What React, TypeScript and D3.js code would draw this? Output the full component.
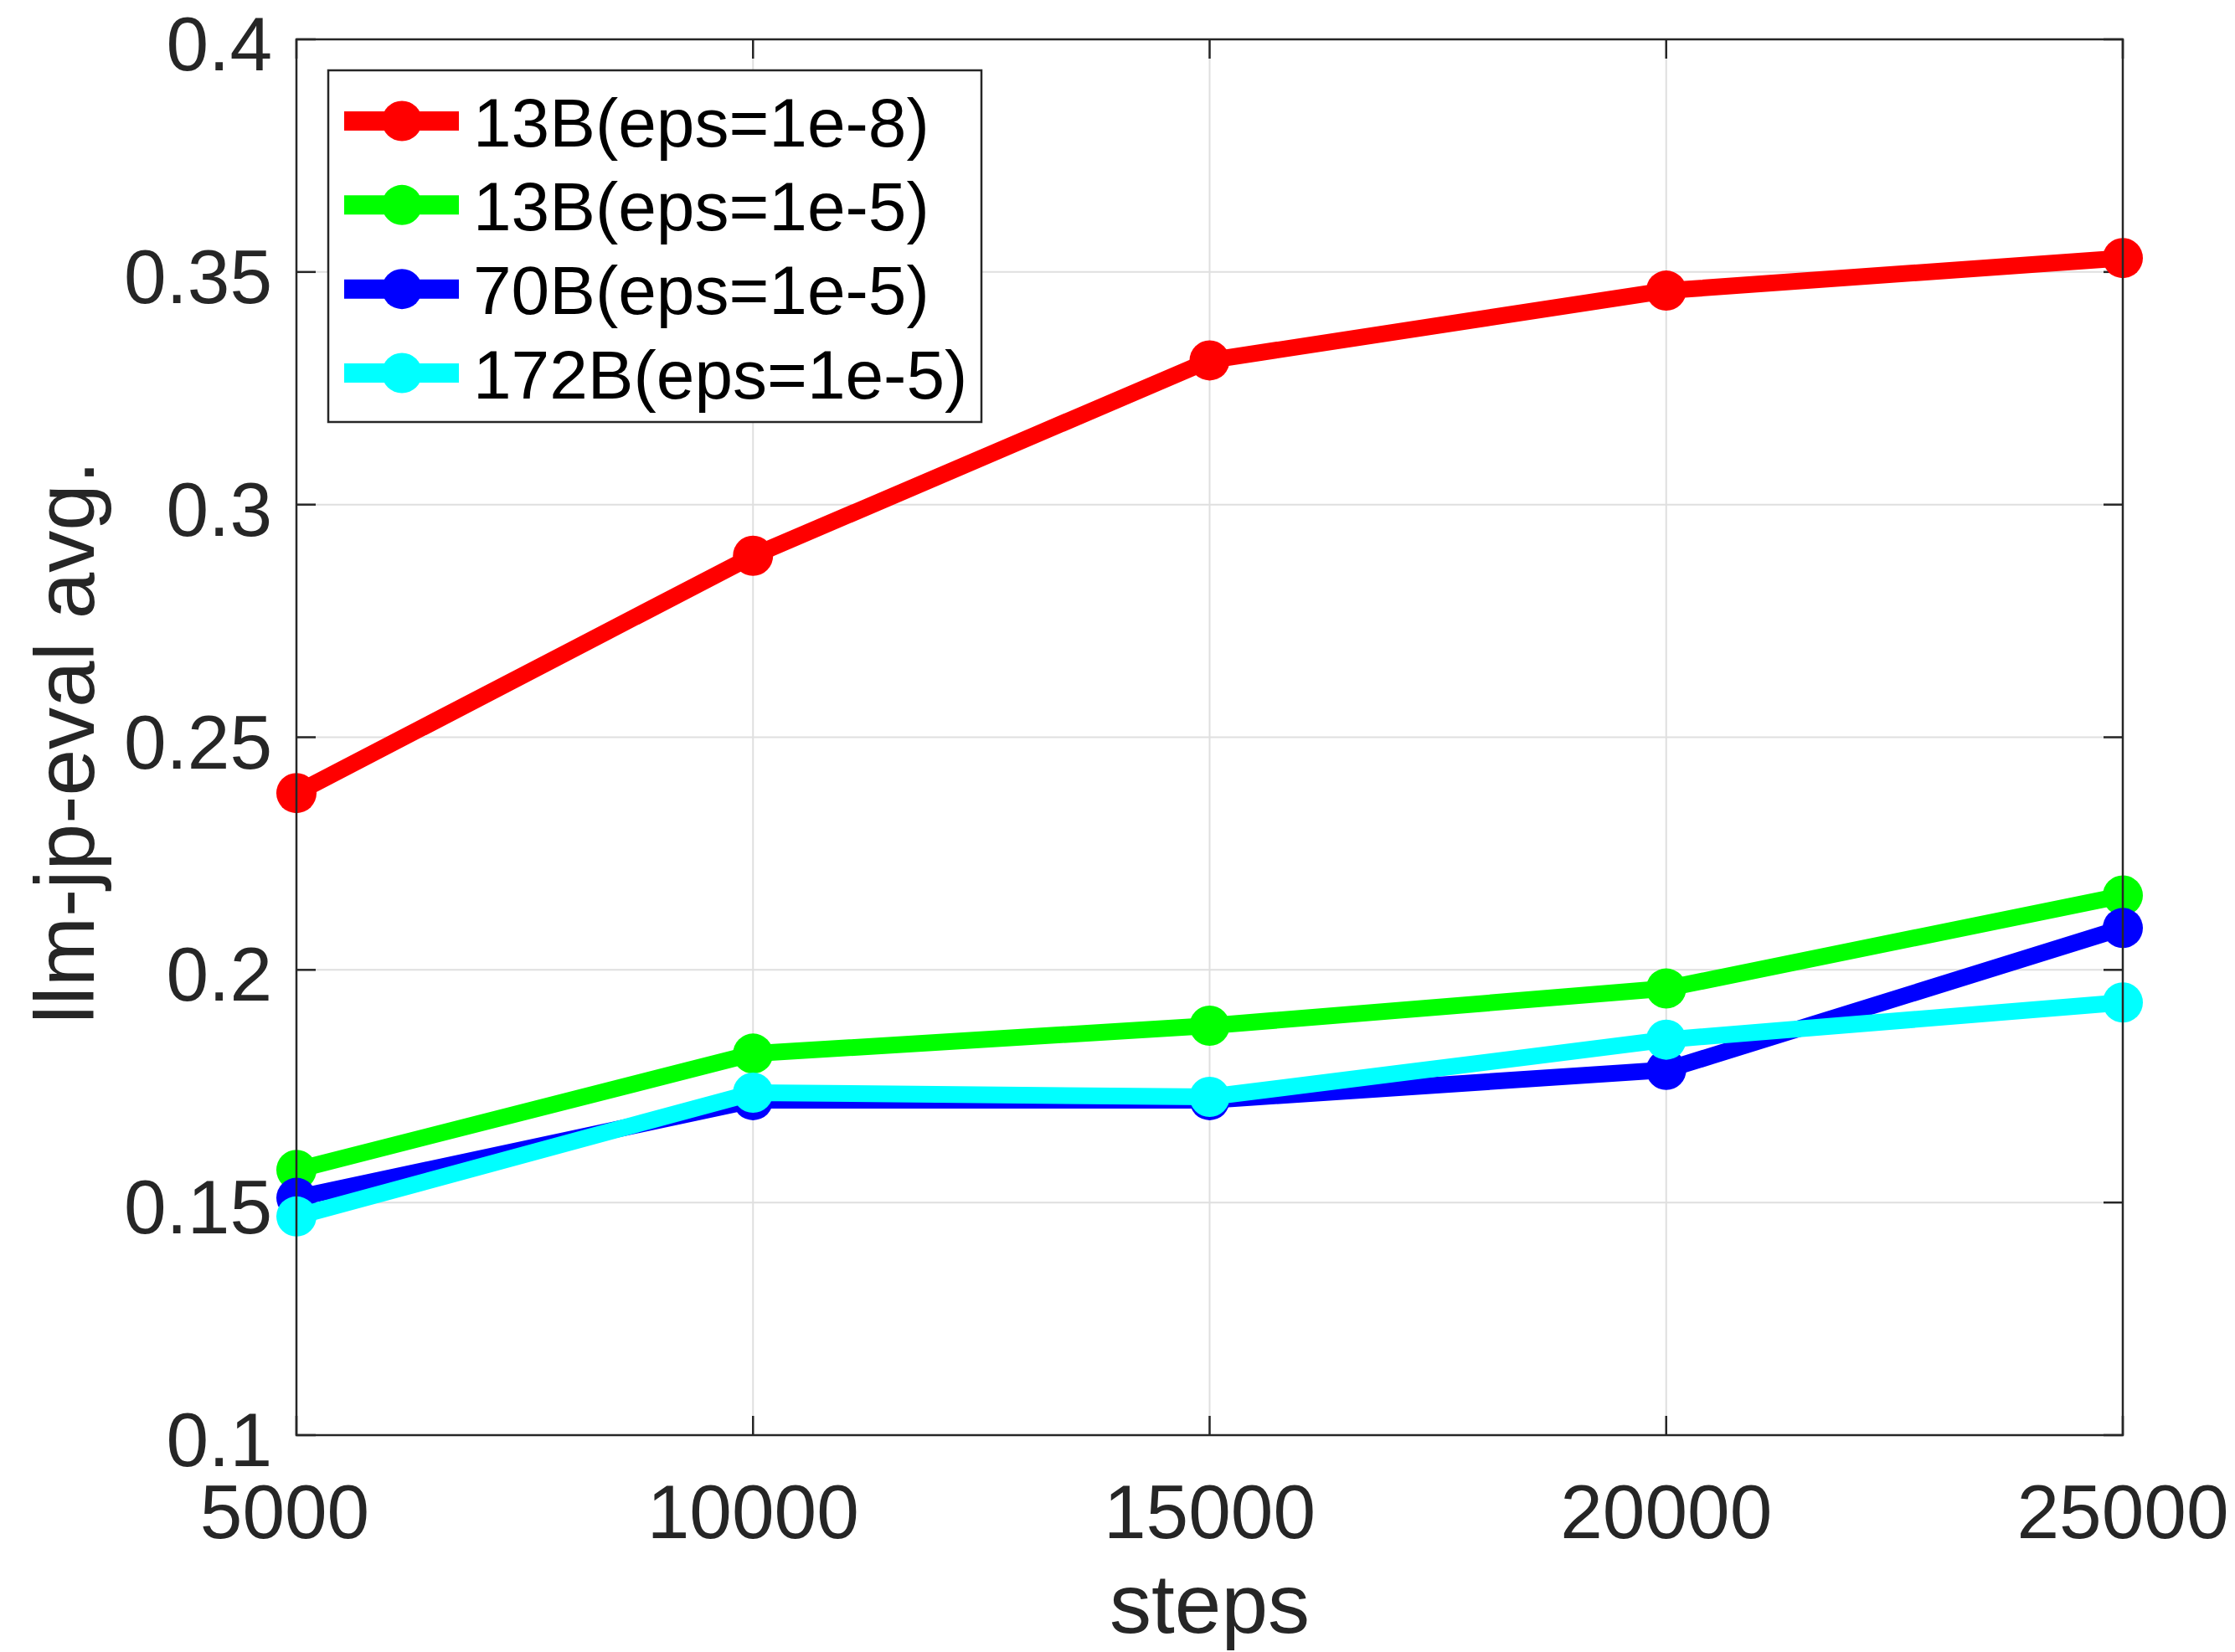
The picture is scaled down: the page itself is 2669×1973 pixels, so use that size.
import React from "react"
import * as d3 from "d3"

// values
const steps = [5000, 10000, 15000, 20000, 25000]
const seriesNames = ["13B(eps=1e-8)", "13B(eps=1e-5)", "70B(eps=1e-5)", "172B(eps=1e-5)"]
const seriesColors = ["#ff0000", "#00ff00", "#0000ff", "#00ffff"]
const red13b = [0.238, 0.289, 0.331, 0.346, 0.353]
const green13b = [0.157, 0.182, 0.188, 0.196, 0.216]
const blue70b = [0.151, 0.172, 0.172, 0.1785, 0.209]
const cyan172b = [0.147, 0.1736, 0.1727, 0.185, 0.193]
const xTicks = [5000, 10000, 15000, 20000, 25000]
const yTicks = [0.1, 0.15, 0.2, 0.25, 0.3, 0.35, 0.4]
const xLabel = "steps"
const yLabel = "llm-jp-eval avg."

const W = 2669, H = 1973
const margin = { left: 354, right: 134, top: 47, bottom: 259 }
const FONT = "Helvetica, 'Liberation Sans', Arial, sans-serif"
const INK = "#262626"

export default function App() {
  const x = d3.scaleLinear().domain([5000, 25000]).range([margin.left, W - margin.right])
  const y = d3.scaleLinear().domain([0.1, 0.4]).range([H - margin.bottom, margin.top])
  const [x0, x1] = x.range()
  const [y0, y1] = y.range()
  const tickLen = 23

  const allSeries = [red13b, green13b, blue70b, cyan172b]
  const line = d3.line<number>()
    .x((d, i) => x(steps[i]))
    .y(d => y(d))

  // legend layout
  const legendRow = d3.scaleLinear().domain([0, 3]).range([144.5, 445.5])

  return (
    <svg width={W} height={H} style={{ position: "absolute", left: 0, top: 0, background: "#fff" }}
      fontFamily={FONT}>
      {/* grid */}
      <g stroke="#dfdfdf" strokeWidth={2}>
        {xTicks.map(t => <line key={"gx" + t} x1={x(t)} x2={x(t)} y1={y1} y2={y0} />)}
        {yTicks.map(t => <line key={"gy" + t} x1={x0} x2={x1} y1={y(t)} y2={y(t)} />)}
      </g>

      {/* ticks, inward on all four sides */}
      <g stroke={INK} strokeWidth={2.5}>
        {xTicks.map(t => (
          <g key={"tx" + t}>
            <line x1={x(t)} x2={x(t)} y1={y0} y2={y0 - tickLen} />
            <line x1={x(t)} x2={x(t)} y1={y1} y2={y1 + tickLen} />
          </g>
        ))}
        {yTicks.map(t => (
          <g key={"ty" + t}>
            <line x1={x0} x2={x0 + tickLen} y1={y(t)} y2={y(t)} />
            <line x1={x1} x2={x1 - tickLen} y1={y(t)} y2={y(t)} />
          </g>
        ))}
      </g>

      {/* tick labels */}
      <g fill={INK} fontSize={91}>
        {xTicks.map((t, i) => (
          <text key={"lx" + t} x={x(t) - (i === 0 ? 14 : 0)} y={1837} textAnchor="middle">{d3.format("d")(t)}</text>
        ))}
        {yTicks.map(t => (
          <text key={"ly" + t} x={325} y={y(t) + 37} textAnchor="end">{d3.format("")(+t.toFixed(2))}</text>
        ))}
      </g>

      {/* axis labels */}
      <text x={(x0 + x1) / 2} y={1950} textAnchor="middle" fontSize={100} fill={INK}>{xLabel}</text>
      <text transform={`translate(112,${(y0 + y1) / 2 + 6}) rotate(-90)`} textAnchor="middle" fontSize={100} fill={INK}>{yLabel}</text>

      {/* data */}
      {allSeries.map((vals, si) => (
        <g key={"s" + si}>
          <path d={line(vals) || ""} fill="none" stroke={seriesColors[si]} strokeWidth={20} strokeLinejoin="round" />
          {vals.map((v, i) => (
            <circle key={i} cx={x(steps[i])} cy={y(v)} r={24} fill={seriesColors[si]} />
          ))}
        </g>
      ))}

      {/* axes box */}
      <rect x={x0} y={y1} width={x1 - x0} height={y0 - y1} fill="none" stroke={INK} strokeWidth={2.5} />

      {/* legend */}
      <g>
        <rect x={392} y={84} width={780} height={420} fill="#fff" stroke={INK} strokeWidth={2.5} />
        {seriesNames.map((name, i) => {
          const cy = legendRow(i)
          return (
            <g key={name}>
              <line x1={411} x2={548} y1={cy} y2={cy} stroke={seriesColors[i]} strokeWidth={23} />
              <circle cx={480} cy={cy} r={24} fill={seriesColors[i]} />
              <text x={565} y={cy + 30} fontSize={82} fill="#000">{name}</text>
            </g>
          )
        })}
      </g>
    </svg>
  )
}
